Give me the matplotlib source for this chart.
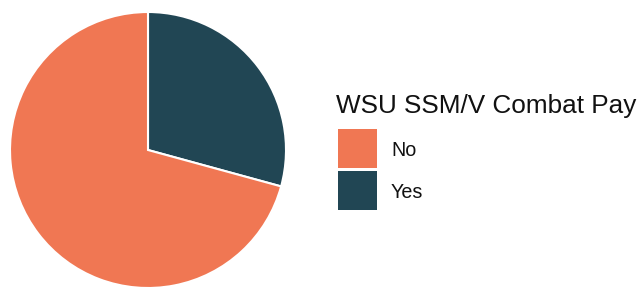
import matplotlib
matplotlib.use("Agg")
import matplotlib.pyplot as plt
from matplotlib.patches import Rectangle

labels = ["No", "Yes"]
values = [70.75, 29.25]
colors = ["#F07753", "#214654"]
title = "WSU SSM/V Combat Pay"

plt.rcParams['font.family'] = ['Liberation Sans', 'DejaVu Sans']

W, H = 642, 288
fig = plt.figure(figsize=(W/100, H/100), dpi=100)
ax = fig.add_axes([10/W, 0/H, 276/W, 276/H])
wedges, _ = ax.pie(values[::-1], colors=colors[::-1], startangle=90, counterclock=False,
                   wedgeprops=dict(edgecolor="white", linewidth=1.5))
ax.set_aspect("equal")
ax.set_xlim(-1, 1)
ax.set_ylim(-1, 1)

def fx(px):
    return px / W

def fy(py):
    return 1 - py / H

# legend drawn in figure pixel positions
fig.text(fx(336), fy(113), title, fontsize=18.8, va="baseline", ha="left", color="#111111")
top0 = 129
pitch = 42
size = 39
for i, (lab, col) in enumerate(zip(labels, colors)):
    t = top0 + i * pitch
    fig.patches.append(Rectangle((fx(338), fy(t + size)), size / W, size / H,
                                 transform=fig.transFigure, facecolor=col, edgecolor="none"))
    fig.text(fx(391), fy(t + 27.5), lab, fontsize=14.2, va="baseline", ha="left", color="#111111")

fig.savefig("out.png", dpi=100)
